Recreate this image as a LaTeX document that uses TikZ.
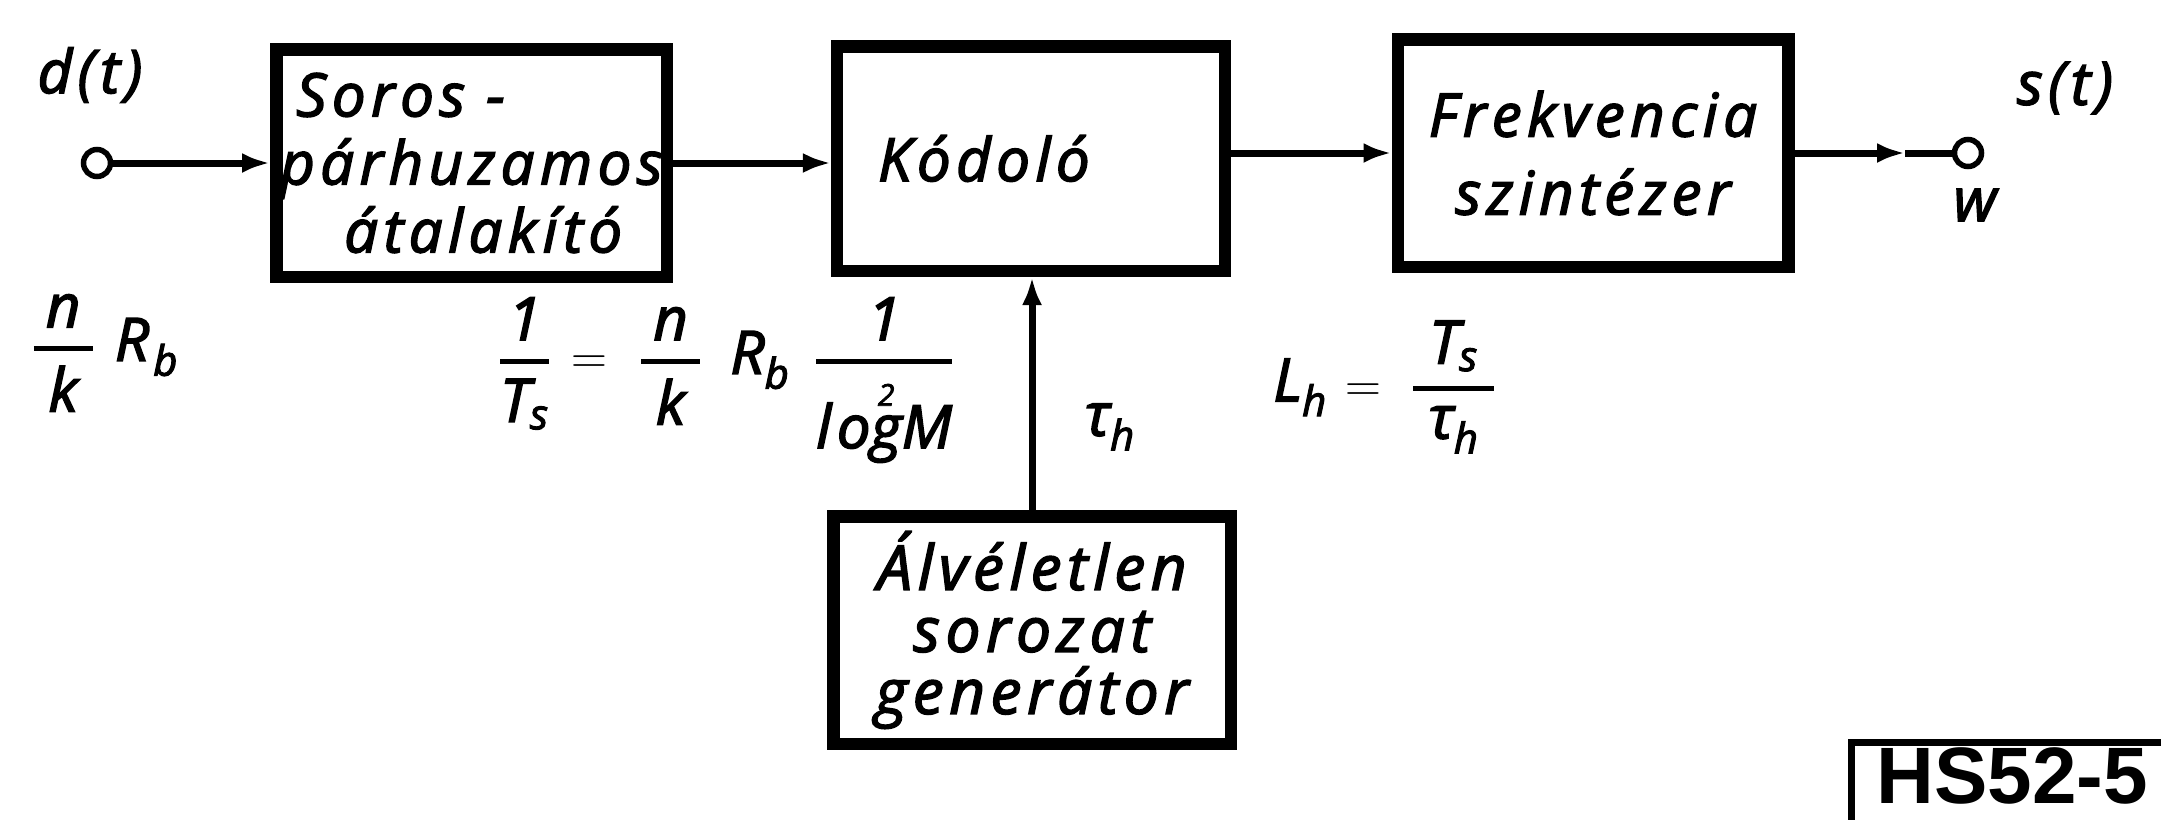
\documentclass[tikz,border=0pt]{standalone}
\usepackage{amsmath}
\usepackage{fontspec}
\setmainfont{Open Sans}[LetterSpace=9, ItalicFeatures={FakeBold=2.5}]
\newfontfamily\hsfont{Liberation Sans}
\usetikzlibrary{arrows.meta}
\newcommand{\myfrac}[3]{\genfrac{}{}{2.5pt}{0}{\hspace{#1}#2\hspace{#1}}{#3}}
\newcommand{\ti}[1]{\textit{#1}}
\tikzset{
  blk/.style={draw, line width=6.25pt, inner sep=0pt, align=center,
    font=\fontsize{30}{34}\selectfont\itshape},
  conn/.style={line width=3.5pt},
  lbl/.style={font=\fontsize{30}{36}\selectfont\itshape, inner sep=0pt},
  term/.style={circle, draw, line width=2.75pt, minimum size=13.5pt, inner sep=0pt},
  tip/.style={-{Latex[length=14pt,width=10pt]}}
}
\begin{document}
\begin{tikzpicture}[x=0.5pt,y=-0.5pt]
\useasboundingbox[fill=white] (0,0) rectangle (2161,819);
% blocks
\node[blk, minimum width=195.25pt, minimum height=113.75pt, align=left] (b1) at (471.5,163)
  {\hspace*{8pt}Soros -\\párhuzamos\\\hspace*{32pt}átalakító};
\node[blk, minimum width=193.75pt, minimum height=112.25pt, text width=153pt,
  inner xsep=20.4pt, align=left] (b2) at (1031,158.5) {Kódoló};
\node[blk, minimum width=195.25pt, minimum height=113.75pt,
  font=\fontsize{30}{39}\selectfont\itshape] (b3) at (1593,153) {Frekvencia\\szintézer};
\node[blk, minimum width=198.75pt, minimum height=113.75pt,
  font=\fontsize{31}{31}\selectfont\itshape] (b4) at (1032,630) {Álvéletlen\\sorozat\\generátor};
% terminals
\node[term] (in) at (97,163) {};
\node[term] (out) at (1968,153) {};
\coordinate (otip) at (1905,153);
% connectors
\draw[conn,tip] (in) -- (b1.west);
\draw[conn,tip] (b1.east) -- (b1.east -| b2.west);
\draw[conn,tip] (b2.east |- b3.west) -- (b3.west);
\draw[conn,tip] (b3.east) -- (otip);
\draw[conn] (otip) -- (out);
\draw[conn,tip] (b4.north) -- (b4.north |- b2.south);
% labels
\node[lbl] (dt) at (90,75) {d(t)};
\node[lbl] (st) at (2065,88) {s(t)};
\node[lbl] (w) at (1975,205) {w};
\node[lbl] (f1) at (105,353) {$\myfrac{6pt}{\ti{n}}{\ti{k}}\hspace{10pt}\ti{R}_{\hspace{2pt}\ti{b}}$};
\node[lbl] (f2) at (726,380) {$\myfrac{3.5pt}{\ti{1}}{\ti{T}_{\ti{s}}}\hspace{3pt}=\hspace{9pt}\myfrac{6pt}{\ti{n}}{\ti{k}}\hspace{14pt}\ti{R}_{\ti{b}}\hspace{12pt}\myfrac{0pt}{\ti{1}}{\ti{lo}\overset{\scriptscriptstyle\ti{2}}{\ti{g}}\ti{M}}$};
\node[lbl] (tau) at (1110,427) {$\ti{τ}_{\ti{h}}$};
\node[lbl] (lh) at (1385,387) {$\ti{L}_{\ti{h}}\hspace{2pt}=\hspace{8pt}\myfrac{8pt}{\ti{T}_{\ti{s}}}{\ti{τ}_{\ti{h}}}$};
% figure id
\node[draw, line width=3.5pt, minimum width=161pt, minimum height=43pt, inner sep=0pt,
  text depth=9pt, font=\hsfont\bfseries\fontsize{40}{40}\selectfont] (hs) at (2012,785) {HS52-5};
\end{tikzpicture}
\end{document}
